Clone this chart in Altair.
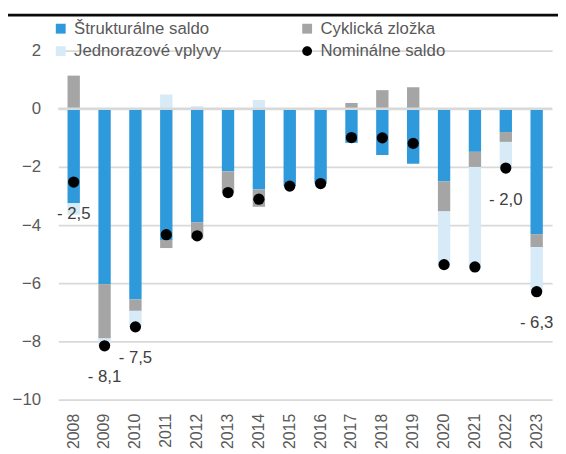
import altair as alt
import pandas as pd

years = [str(y) for y in range(2008, 2024)]
struct = [-3.25, -6.03, -6.56, -4.51, -3.91, -2.15, -2.78, -2.66, -2.57, -1.17, -1.59, -1.89, -2.50, -1.48, -0.80, -4.31]
cyc = [1.14, -1.87, -0.39, -0.28, -0.55, -0.73, -0.59, 0.0, 0.0, 0.20, 0.64, 0.74, -1.03, -0.52, -0.34, -0.45]
one = [-0.39, -0.25, -0.55, 0.49, 0.09, 0.0, 0.30, 0.0, 0.0, 0.0, 0.0, 0.0, -1.83, -3.44, -0.90, -1.53]
nominal = [-2.52, -8.15, -7.50, -4.33, -4.37, -2.88, -3.11, -2.66, -2.57, -0.99, -1.00, -1.19, -5.36, -5.44, -2.04, -6.29]
labels = ["- 2,5", "- 8,1", "- 7,5", "", "", "", "", "", "", "", "", "", "", "", "- 2,0", "- 6,3"]

bar_series = ["Štrukturálne saldo", "Cyklická zložka", "Jednorazové vplyvy"]
# legend domain order (filled column by column: col 1 then col 2)
legend_order = ["Štrukturálne saldo", "Jednorazové vplyvy", "Cyklická zložka", "Nominálne saldo"]
colors = ["#2E9ADB", "#D6EAF7", "#A5A5A5", "#000000"]
shapes = ["square", "square", "square", "circle"]

rows = []
for i, y in enumerate(years):
    for k, (name, vals) in enumerate(zip(bar_series, [struct, cyc, one])):
        if vals[i] != 0:
            rows.append({"year": y, "series": name, "value": vals[i], "order": k})
bars_df = pd.DataFrame(rows)
nom_df = pd.DataFrame({"year": years, "value": nominal, "label": labels,
                       "series": ["Nominálne saldo"] * len(years)})

FONT = "Liberation Sans, Arial, sans-serif"
W, H = 501, 354

xenc = alt.X("year:N", sort=years,
             scale=alt.Scale(paddingInner=0.6, paddingOuter=0.3),
             axis=alt.Axis(title=None, labelAngle=-90, labelFontSize=16, labelColor="#595959",
                           labelPadding=14, domain=False, ticks=False, grid=False, labelFont=FONT))
yscale = alt.Scale(domain=[-10, 2], nice=False, zero=False)
yaxis = alt.Axis(title=None, values=[-10, -8, -6, -4, -2, 0, 2], labelFontSize=17, labelColor="#595959",
                 labelPadding=18, domain=False, ticks=False, grid=True, gridColor="#D9D9D9",
                 gridWidth=1.8, labelFont=FONT)

legend = alt.Legend(title=None, orient="none", legendX=-6, legendY=-31, columns=2,
                    columnPadding=78, rowPadding=5, symbolSize=100, labelFontSize=17,
                    labelColor="#595959", labelFont=FONT, labelOffset=5, labelLimit=300,
                    symbolStrokeWidth=0)
color = alt.Color("series:N", scale=alt.Scale(domain=legend_order, range=colors), legend=legend)
shape = alt.Shape("series:N", scale=alt.Scale(domain=legend_order, range=shapes), legend=legend)

bars = alt.Chart(bars_df).mark_bar().encode(
    x=xenc,
    y=alt.Y("value:Q", stack="zero", scale=yscale, axis=yaxis),
    color=color,
    order=alt.Order("order:Q"),
)

zero = alt.Chart(pd.DataFrame({"z": [0]})).mark_rule(color="#D9D9D9", strokeWidth=2.5).encode(
    y=alt.Y("z:Q", scale=yscale)
)

points = alt.Chart(nom_df).mark_point(filled=True, size=130, opacity=1).encode(
    x=xenc,
    y=alt.Y("value:Q", scale=yscale),
    color=color,
    shape=shape,
)

texts = alt.Chart(nom_df).mark_text(dy=32, fontSize=17, color="#404040", font=FONT).encode(
    x=xenc,
    y=alt.Y("value:Q", scale=yscale),
    text="label:N",
)

topline = alt.Chart(pd.DataFrame({"a": [0]})).mark_rule(color="#0a0a0a", strokeWidth=3).encode(
    x=alt.value(-52), x2=alt.value(W + 8), y=alt.value(-36)
)

chart = alt.layer(bars, zero, points, texts, topline).properties(
    width=W, height=H,
    autosize=alt.AutoSizeParams(type="none"),
    padding={"left": 51, "top": 40, "right": 6, "bottom": 52},
).configure_view(stroke=None)

chart.save("out.html", embed_options={"renderer": "svg", "actions": False})
